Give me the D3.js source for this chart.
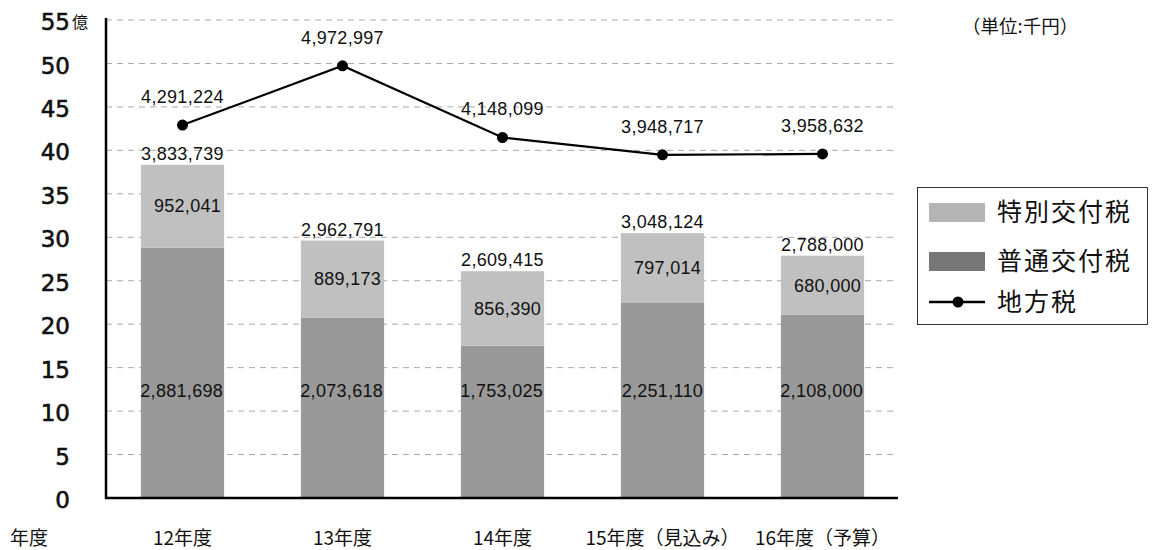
<!DOCTYPE html>
<html><head><meta charset="utf-8">
<script src="https://cdn.jsdelivr.net/npm/d3@7"></script>
<style>
html,body{margin:0;padding:0;background:#fff;}
svg{display:block;}
</style></head>
<body>
<svg id="c" width="1152" height="550"></svg>
<script>
const categories = ["12年度","13年度","14年度","15年度（見込み）","16年度（予算）"];
const futsuu = [2881698, 2073618, 1753025, 2251110, 2108000];   // 普通交付税 (千円)
const tokubetsu = [952041, 889173, 856390, 797014, 680000];      // 特別交付税 (千円)
const totals = [3833739, 2962791, 2609415, 3048124, 2788000];
const chihouzei = [4291224, 4972997, 4148099, 3948717, 3958632]; // 地方税 (千円)
const yTicks = [0,5,10,15,20,25,30,35,40,45,50,55];
const legendLabels = ["特別交付税","普通交付税","地方税"];

const svg = d3.select("#c");
const numFont = "'Liberation Sans', Arial, sans-serif";
const cjkFont = "'Noto Sans CJK JP', sans-serif";
const fmt = d3.format(",");
const numSize = 18, numSpacing = 0.3;

const y = d3.scaleLinear().domain([0,55]).range([498,20]);
const x = d3.scaleBand().domain(categories).range([102.5,902.5]).paddingInner(0.48).paddingOuter(0.24);
const toOku = v => v/100000; // 千円 -> 億円

function numText(sel){
  return sel.attr("font-family",numFont).attr("font-size",numSize).attr("letter-spacing",numSpacing).attr("fill","#111");
}

// grid
svg.append("g").selectAll("line").data(yTicks.filter(d=>d>0)).join("line")
  .attr("x1",106).attr("x2",898).attr("y1",d=>y(d)).attr("y2",d=>y(d))
  .attr("stroke","#aaa").attr("stroke-width",1).attr("stroke-dasharray","6,5");

// bars
const g = svg.append("g");
categories.forEach((c,i)=>{
  const x0 = x(c), w = x.bandwidth();
  const fTop = y(toOku(futsuu[i]));
  const tTop = y(toOku(futsuu[i]+tokubetsu[i]));
  g.append("rect").attr("x",x0).attr("width",w).attr("y",fTop).attr("height",y(0)-fTop).attr("fill","#999999");
  g.append("rect").attr("x",x0).attr("width",w).attr("y",tTop).attr("height",fTop-tTop).attr("fill","#c0c0c0");
  numText(g.append("text").attr("x",x0+w-1).attr("y",y(12.4)).attr("dy","0.35em").attr("text-anchor","end")).text(fmt(futsuu[i]));
  numText(g.append("text").attr("x",x0+w-3).attr("y",(fTop+tTop)/2).attr("dy","0.35em").attr("text-anchor","end")).text(fmt(tokubetsu[i]));
  numText(g.append("text").attr("x",x0+w/2).attr("y",tTop-5).attr("text-anchor","middle")).text(fmt(totals[i]));
});

// axes lines
svg.append("line").attr("x1",106).attr("x2",106).attr("y1",18).attr("y2",499).attr("stroke","#000").attr("stroke-width",2.5);
svg.append("line").attr("x1",105).attr("x2",898).attr("y1",498).attr("y2",498).attr("stroke","#000").attr("stroke-width",2.5);

// y tick labels
svg.append("g").selectAll("text").data(yTicks).join("text")
  .attr("x",70).attr("y",d=>y(d)+2).attr("dy","0.35em").attr("text-anchor","end")
  .attr("font-family","'DejaVu Sans', sans-serif").attr("font-size",23).attr("fill","#111")
  .attr("stroke","#111").attr("stroke-width",0.6)
  .text(d=>d);
svg.append("text").attr("x",72).attr("y",y(55)+2).attr("dy","0.35em")
  .attr("font-family",cjkFont).attr("font-size",16).attr("fill","#111").text("億");

// x labels
svg.append("g").selectAll("text").data(categories).join("text")
  .attr("x",d=>x(d)+x.bandwidth()/2).attr("y",538).attr("dy","0.35em").attr("text-anchor","middle")
  .attr("font-family",cjkFont).attr("font-size",19).attr("fill","#111").text(d=>d);
svg.append("text").attr("x",10).attr("y",538).attr("dy","0.35em")
  .attr("font-family",cjkFont).attr("font-size",19).attr("fill","#111").text("年度");

// line
const line = d3.line().x((d,i)=>x(categories[i])+x.bandwidth()/2).y(d=>y(toOku(d)));
svg.append("path").datum(chihouzei).attr("d",line).attr("fill","none").attr("stroke","#000").attr("stroke-width",2.2);
svg.append("g").selectAll("circle").data(chihouzei).join("circle")
  .attr("cx",(d,i)=>x(categories[i])+x.bandwidth()/2).attr("cy",d=>y(toOku(d))).attr("r",5.5).attr("fill","#000");
numText(svg.append("g").selectAll("text").data(chihouzei).join("text")
  .attr("x",(d,i)=>x(categories[i])+x.bandwidth()/2).attr("y",d=>y(toOku(d))-22).attr("text-anchor","middle"))
  .text(d=>fmt(d));

// unit
svg.append("text").attr("x",962).attr("y",27).attr("dy","0.35em")
  .attr("font-family",cjkFont).attr("font-size",18.5).attr("fill","#111").text("（単位:千円）");

// legend
const rowY = [212.5, 261.5, 302];
const lg = svg.append("g");
lg.append("rect").attr("x",917.5).attr("y",187.5).attr("width",230).attr("height",137).attr("fill","#fff").attr("stroke","#333").attr("stroke-width",1);
lg.append("rect").attr("x",929).attr("y",rowY[0]-9.5).attr("width",56).attr("height",19).attr("fill","#b4b4b4");
lg.append("rect").attr("x",929).attr("y",rowY[1]-9.5).attr("width",56).attr("height",19).attr("fill","#777777");
lg.append("line").attr("x1",929).attr("x2",985).attr("y1",rowY[2]).attr("y2",rowY[2]).attr("stroke","#000").attr("stroke-width",2.5);
lg.append("circle").attr("cx",958).attr("cy",rowY[2]).attr("r",5.5).attr("fill","#000");
lg.selectAll("text.l").data(legendLabels).join("text").attr("class","l")
  .attr("x",997).attr("y",(d,i)=>rowY[i]).attr("dy","0.35em")
  .attr("font-family",cjkFont).attr("font-size",25).attr("letter-spacing",2).attr("fill","#111").text(d=>d);
</script>
</body></html>
